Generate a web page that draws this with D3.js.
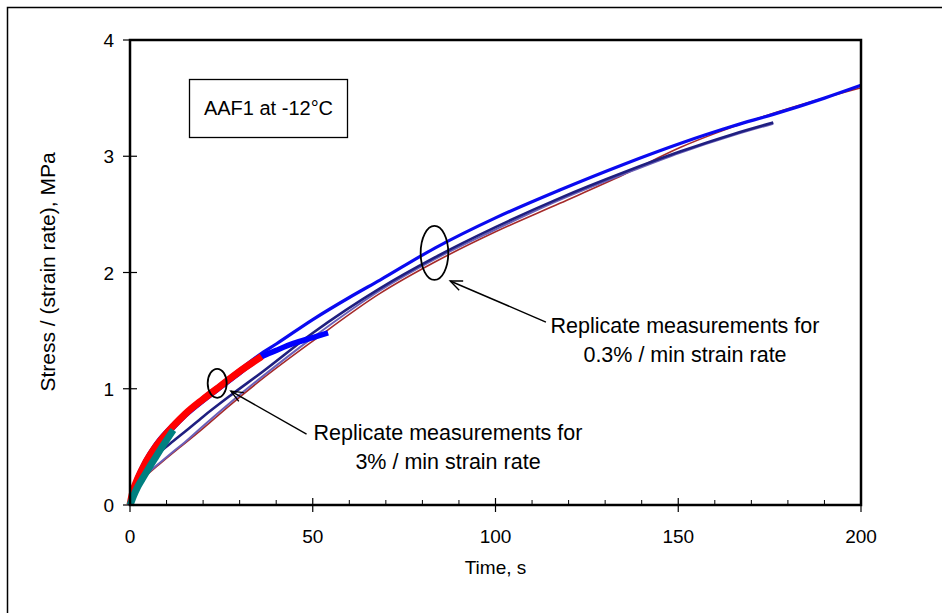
<!DOCTYPE html>
<html><head><meta charset="utf-8">
<script src="https://cdn.jsdelivr.net/npm/d3@7"></script>
<style>body{margin:0;background:#fff}svg{display:block}text{font-family:"Liberation Sans",Arial,sans-serif;fill:#000}</style>
</head><body><svg id="c" width="942" height="613"></svg>
<script>
// ---- data ----
const xTicks = [0, 50, 100, 150, 200];
const yTicks = [0, 1, 2, 3, 4];
const xMinor = d3.range(0, 201, 10);
const title = "AAF1 at -12°C";
const xLabel = "Time, s";
const yLabel = "Stress / (strain rate), MPa";
const note1 = ["Replicate measurements for", "3% / min strain rate"];
const note2 = ["Replicate measurements for", "0.3% / min strain rate"];

// 0.3%/min replicates (long)
const tA = [0,0.5,1,2,4,7,11.85,15,20,25,30,36,40,50,60,68.4,83.4,100,117.6,135,150.5,165,176,190,200];
const yA = [0,0.1,0.16,0.25,0.38,0.53,0.70,0.79,0.925,1.045,1.165,1.305,1.385,1.595,1.785,1.935,2.21,2.47,2.71,2.93,3.11,3.26,3.36,3.50,3.61];
const tB = [0,0.5,1,2,3,5,8,11.85,15,20,27.4,36,50,68.4,83.4,100,117.6,135,150.5,175,200];
const yB = [0,0.08,0.13,0.19,0.22,0.27,0.35,0.45,0.53,0.66,0.86,1.08,1.41,1.82,2.09,2.35,2.595,2.84,3.075,3.36,3.59];
const tC = [0,0.5,1,2,3,5,8,11.85,15,20,27.4,36,50,68.4,83.4,100,117.6,135,150.5,165,176];
const yC = [0,0.1,0.16,0.23,0.28,0.36,0.45,0.55,0.63,0.76,0.94,1.14,1.48,1.864,2.13,2.39,2.64,2.86,3.04,3.19,3.29];
const tD = [0,0.5,1,2,3,5,8,11.85,15,20,27.4,36,50,68.4,83.4,100,117.6,135,150.5,165,176];
const yD = [0,0.08,0.14,0.2,0.23,0.28,0.36,0.46,0.54,0.68,0.88,1.10,1.44,1.845,2.115,2.37,2.625,2.845,3.03,3.18,3.28];
// 3%/min replicates (short)
const tR = [0,0.5,1,2,4,7,11.85,15,20,25,30,36];
const yR = [0,0.08,0.14,0.22,0.35,0.5,0.68,0.78,0.91,1.03,1.15,1.277];
const tE = [0,1,2,4,7,11.85,15,20,25,30,36,40,44.7,50,54.2];
const yE = [0,0.14,0.21,0.34,0.49,0.67,0.77,0.9,1.02,1.14,1.275,1.33,1.39,1.44,1.48];
const tG = [0,0.5,1,2,3.3,5,7,9,11.85];
const yG = [0,0.04,0.08,0.15,0.22,0.31,0.41,0.51,0.645];

// ---- chart ----
const svg = d3.select("#c");
const L = 130, R = 861, T = 40, Bm = 505;
const x = d3.scaleLinear().domain([0, 200]).range([L, R]);
const y = d3.scaleLinear().domain([0, 4]).range([Bm, T]);

// outer frame
svg.append("rect").attr("x", 7.5).attr("y", 7.5).attr("width", 960).attr("height", 640)
  .attr("fill", "none").attr("stroke", "#000").attr("stroke-width", 1.5);

const line = d3.line().x(d => x(d[0])).y(d => y(d[1])).curve(d3.curveMonotoneX);
const series = [
  {t: tB, v: yB, c: "#a52a2a", w: 1.6},
  {t: tD, v: yD, c: "#6a5fb8", w: 2},
  {t: tC, v: yC, c: "#1f1f80", w: 2.6},
  {t: tA, v: yA, c: "#0a0af0", w: 3.2},
  {t: tE, v: yE, c: "#0000ff", w: 5.5},
  {t: tR, v: yR, c: "#ff0000", w: 7},
  {t: tG, v: yG, c: "#008080", w: 7}
];
const g = svg.append("g");
series.forEach(s => {
  g.append("path").datum(s.t.map((t, i) => [t, s.v[i]]))
    .attr("d", line).attr("fill", "none").attr("stroke", s.c)
    .attr("stroke-width", s.w).attr("stroke-linejoin", "round").attr("stroke-linecap", "butt");
});

// plot frame
svg.append("rect").attr("x", L).attr("y", T).attr("width", R - L).attr("height", Bm - T)
  .attr("fill", "none").attr("stroke", "#000").attr("stroke-width", 2.5);

// x axis ticks
svg.append("g").selectAll("line").data(xMinor.filter(v => xTicks.indexOf(v) < 0)).join("line")
  .attr("x1", d => x(d)).attr("x2", d => x(d)).attr("y1", Bm).attr("y2", Bm - 5)
  .attr("stroke", "#000").attr("stroke-width", 1);
svg.append("g").selectAll("line").data(xTicks).join("line")
  .attr("x1", d => x(d)).attr("x2", d => x(d)).attr("y1", Bm - 7).attr("y2", Bm + 7)
  .attr("stroke", "#000").attr("stroke-width", 1.2);
svg.append("g").selectAll("text").data(xTicks).join("text")
  .attr("x", d => x(d)).attr("y", Bm + 38).attr("text-anchor", "middle")
  .attr("font-size", 19).text(d => d);
// y axis ticks
svg.append("g").selectAll("line").data(yTicks).join("line")
  .attr("x1", L - 7).attr("x2", d => (d === 4 ? L : L + 7)).attr("y1", d => y(d)).attr("y2", d => y(d))
  .attr("stroke", "#000").attr("stroke-width", 1.2);
svg.append("g").selectAll("text").data(yTicks).join("text")
  .attr("x", L - 16).attr("y", d => y(d) + 7).attr("text-anchor", "end")
  .attr("font-size", 19).text(d => d);

// axis titles
svg.append("text").attr("x", (L + R) / 2).attr("y", 574).attr("text-anchor", "middle")
  .attr("font-size", 19).text(xLabel);
svg.append("text").attr("transform", "translate(55,272) rotate(-90)")
  .attr("text-anchor", "middle").attr("font-size", 21).text(yLabel);

// title box
svg.append("rect").attr("x", 189.5).attr("y", 79.5).attr("width", 158).attr("height", 58)
  .attr("fill", "#fff").attr("stroke", "#000").attr("stroke-width", 1.3);
svg.append("text").attr("x", 268.5).attr("y", 115).attr("text-anchor", "middle")
  .attr("font-size", 20).text(title);

// annotations
const ann = svg.append("g");
ann.append("ellipse").attr("cx", x(23.85)).attr("cy", y(1.047)).attr("rx", 9.5).attr("ry", 14.5)
  .attr("fill", "none").attr("stroke", "#000").attr("stroke-width", 1.8);
ann.append("ellipse").attr("cx", x(83.3)).attr("cy", y(2.168)).attr("rx", 13.8).attr("ry", 27)
  .attr("fill", "none").attr("stroke", "#000").attr("stroke-width", 1.8);
function arrow(x1, y1, x2, y2) {
  const ang = Math.atan2(y2 - y1, x2 - x1), len = 13, sp = 0.4;
  ann.append("line").attr("x1", x1).attr("y1", y1).attr("x2", x2).attr("y2", y2)
    .attr("stroke", "#000").attr("stroke-width", 1.4);
  const p = "M" + (x2 - len * Math.cos(ang - sp)) + "," + (y2 - len * Math.sin(ang - sp)) +
    "L" + x2 + "," + y2 + "L" + (x2 - len * Math.cos(ang + sp)) + "," + (y2 - len * Math.sin(ang + sp));
  ann.append("path").attr("d", p).attr("fill", "none").attr("stroke", "#000").attr("stroke-width", 1.4);
}
arrow(x(48.3), y(0.61), x(27.6), y(0.98));
arrow(x(113.8), y(1.574), x(87.6), y(1.927));
[note1, note2].forEach((n, k) => {
  const cx = k === 0 ? 448 : 685, cy = k === 0 ? 440 : 333;
  n.forEach((s, i) => ann.append("text").attr("x", cx).attr("y", cy + i * 29)
    .attr("text-anchor", "middle").attr("font-size", 21.5).text(s));
});
</script></body></html>
